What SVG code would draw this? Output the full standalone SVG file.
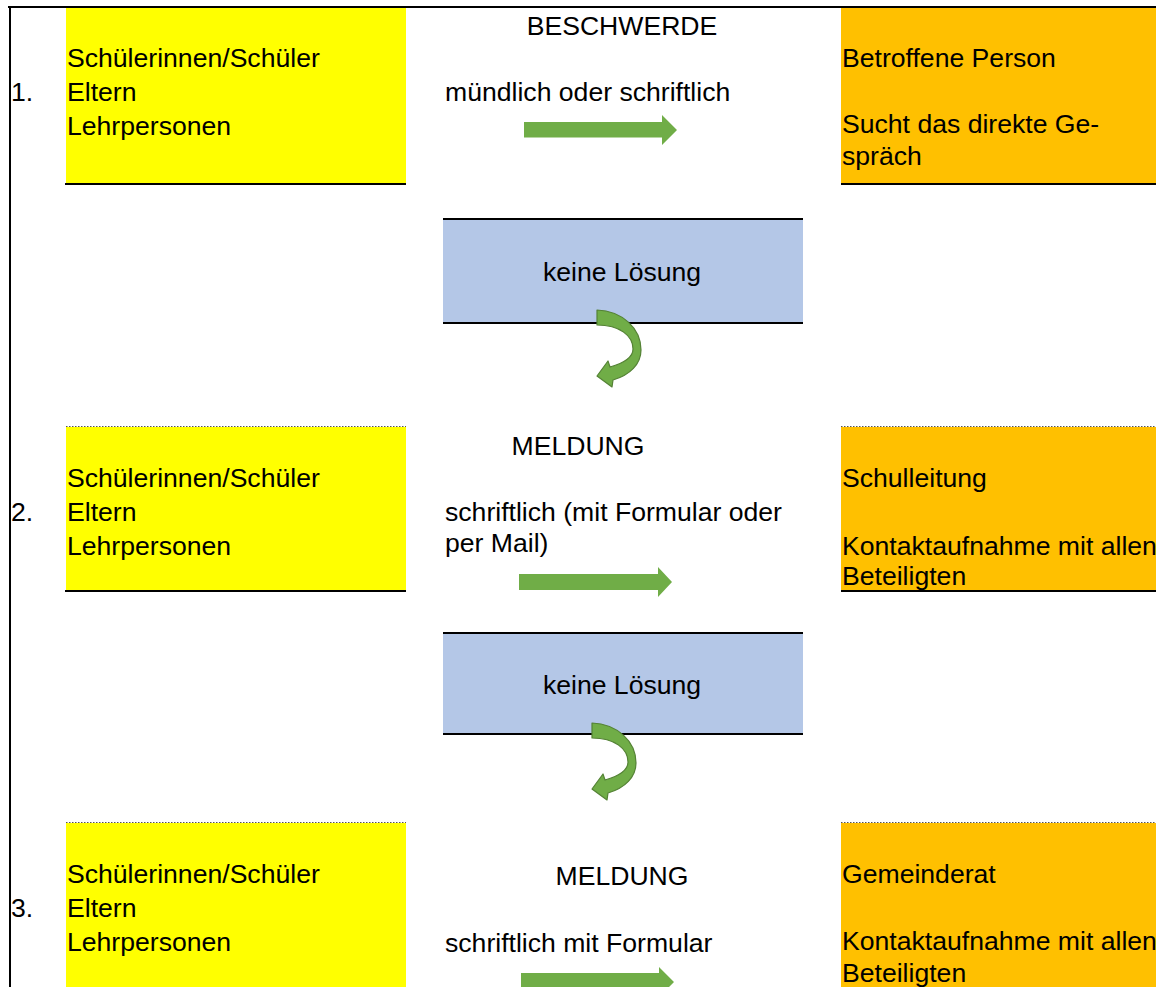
<svg xmlns="http://www.w3.org/2000/svg" width="1156" height="987" viewBox="0 0 1156 987">
<style>
text{font-family:"Liberation Sans",Arial,sans-serif;font-size:26.6px;fill:#000}
.mid{text-anchor:middle}
.yel{fill:#FFFF00}
.org{fill:#FFC000}
.blu{fill:#B4C7E7}
.solid{stroke:#000;stroke-width:2;fill:none}
.dot{stroke:#555;stroke-width:1;stroke-dasharray:1.5 1.5;fill:none}
.arr{fill:#70AD47}
.curv{fill:#70AD47;stroke:#548235;stroke-width:1.2;stroke-linejoin:round}
</style>
<defs>
<path id="curved" d="M597,310 C622,311 641,328 641,350 C641,364 630,375 613,380 L612,387 L597,376 L608,361 L610,367 C624,363 633,357 633,349 C633,336 620,325 597,325 Z"/>
</defs>
<rect width="1156" height="987" fill="#fff"/>
<g id="frame">
<line class="solid" x1="8" y1="7" x2="1156" y2="7"/>
<line class="solid" x1="10" y1="6" x2="10" y2="987"/>
</g>
<g id="row1-senders">
<rect class="yel" x="66" y="8" width="340" height="176"/>
<line class="solid" x1="65" y1="184" x2="406" y2="184"/>
<text x="11" y="101">1.</text>
<text x="67" y="67">Schülerinnen/Schüler</text>
<text x="67" y="101">Eltern</text>
<text x="67" y="135">Lehrpersonen</text>
</g>
<g id="row1-middle">
<text class="mid" x="622" y="35">BESCHWERDE</text>
<text x="445" y="101">mündlich oder schriftlich</text>
</g>
<g id="row1-receiver">
<rect class="org" x="841" y="8" width="315" height="176"/>
<line class="solid" x1="841" y1="184" x2="1156" y2="184"/>
<text x="842" y="67">Betroffene Person</text>
<text x="842" y="133">Sucht das direkte Ge-</text>
<text x="842" y="165">spräch</text>
</g>
<g id="noresult1">
<rect class="blu" x="443" y="219" width="360" height="104"/>
<line class="solid" x1="443" y1="219" x2="803" y2="219"/>
<line class="solid" x1="443" y1="323" x2="803" y2="323"/>
<text class="mid" x="622" y="281">keine Lösung</text>
</g>
<g id="row2-senders">
<rect class="yel" x="66" y="427" width="340" height="164"/>
<line class="dot" x1="66" y1="426.5" x2="406" y2="426.5"/>
<line class="solid" x1="65" y1="591" x2="406" y2="591"/>
<text x="11" y="521">2.</text>
<text x="67" y="487">Schülerinnen/Schüler</text>
<text x="67" y="521">Eltern</text>
<text x="67" y="555">Lehrpersonen</text>
</g>
<g id="row2-middle">
<text class="mid" x="578" y="455">MELDUNG</text>
<text x="445" y="521">schriftlich (mit Formular oder</text>
<text x="445" y="552">per Mail)</text>
</g>
<g id="row2-receiver">
<rect class="org" x="841" y="427" width="315" height="164"/>
<line class="dot" x1="841" y1="426.5" x2="1156" y2="426.5"/>
<line class="solid" x1="841" y1="591" x2="1156" y2="591"/>
<text x="842" y="487">Schulleitung</text>
<text x="842" y="555">Kontaktaufnahme mit allen</text>
<text x="842" y="585">Beteiligten</text>
</g>
<g id="noresult2">
<rect class="blu" x="443" y="633" width="360" height="101"/>
<line class="solid" x1="443" y1="633" x2="803" y2="633"/>
<line class="solid" x1="443" y1="734" x2="803" y2="734"/>
<text class="mid" x="622" y="694">keine Lösung</text>
</g>
<g id="row3-senders">
<rect class="yel" x="66" y="823" width="340" height="164"/>
<line class="dot" x1="66" y1="822.5" x2="406" y2="822.5"/>
<text x="11" y="917">3.</text>
<text x="67" y="883">Schülerinnen/Schüler</text>
<text x="67" y="917">Eltern</text>
<text x="67" y="951">Lehrpersonen</text>
</g>
<g id="row3-middle">
<text class="mid" x="622" y="885">MELDUNG</text>
<text x="445" y="952">schriftlich mit Formular</text>
</g>
<g id="row3-receiver">
<rect class="org" x="841" y="823" width="315" height="164"/>
<line class="dot" x1="841" y1="822.5" x2="1156" y2="822.5"/>
<text x="842" y="883">Gemeinderat</text>
<text x="842" y="950">Kontaktaufnahme mit allen</text>
<text x="842" y="982">Beteiligten</text>
</g>
<g id="connectors">
<path class="arr" d="M524,122 H662 V115 L677,130 L662,145 V137.5 H524 Z"/>
<path class="arr" d="M519,574 H658 V567 L672,582 L658,597 V590 H519 Z"/>
<path class="arr" d="M521,973 H659 V967 L674,982 L659,997 V989 H521 Z"/>
<use href="#curved" class="curv"/>
<use href="#curved" class="curv" transform="translate(-5,413)"/>
</g>
</svg>
